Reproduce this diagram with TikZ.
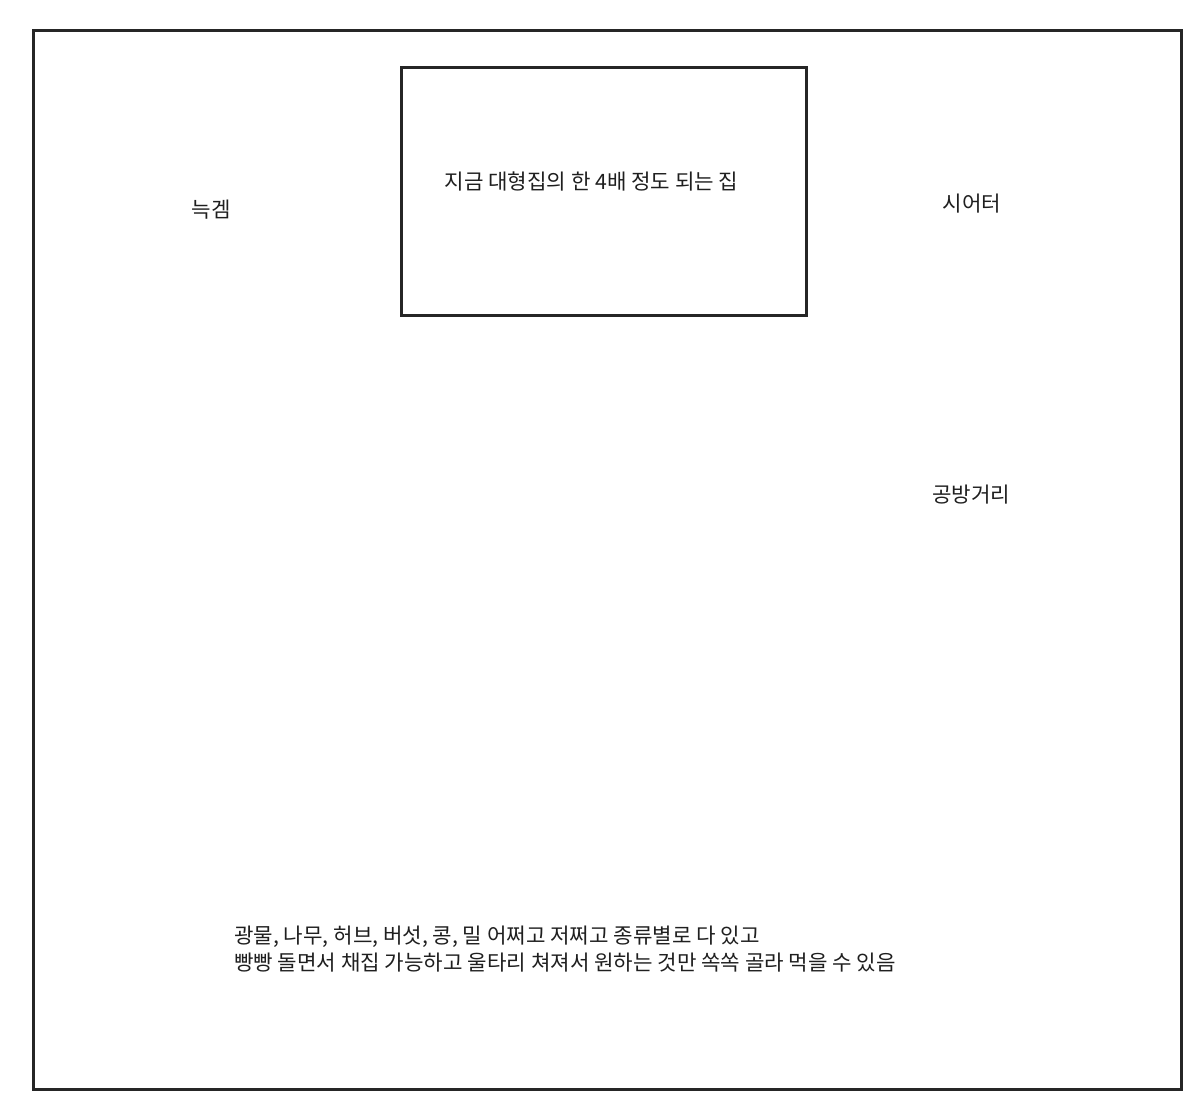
\documentclass[tikz,border=0pt]{standalone}
\usepackage{fontspec}
\setmainfont{Noto Sans CJK KR}
\begin{document}
\begin{tikzpicture}[x=1pt,y=-1pt,
  frame/.style={draw=black!85,line width=3pt},
  lbl/.style={inner sep=0pt,font=\fontsize{21.2}{27}\selectfont,text=black!88}]
\useasboundingbox (0,0) rectangle (1200,1117);
\fill[white] (0,0) rectangle (1200,1117);
\draw[frame] (33,30) rectangle (1181,1089);
\node[frame,minimum width=405pt,minimum height=248pt,inner sep=0pt] (house) at (603.5,191) {};
\node[lbl] (t1) at (591.5,181) {지금 대형집의 한 4배 정도 되는 집};
\node[lbl] (t2) at (211,210) {늑겜};
\node[lbl] (t3) at (972,204) {시어터};
\node[lbl] (t4) at (971,495) {공방거리};
\node[lbl,anchor=west,align=left] (t5) at (234,949.5) {광물, 나무, 허브, 버섯, 콩, 밀 어쩌고 저쩌고 종류별로 다 있고\\빵빵 돌면서 채집 가능하고 울타리 쳐져서 원하는 것만 쏙쏙 골라 먹을 수 있음};
\end{tikzpicture}
\end{document}
